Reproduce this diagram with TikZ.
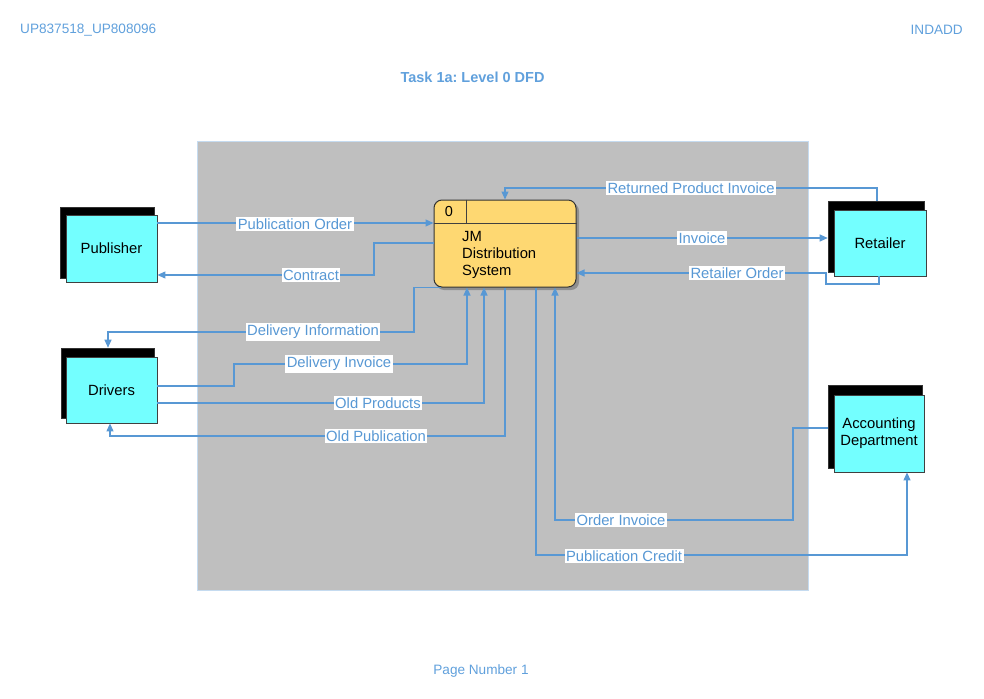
\documentclass[tikz,border=0pt]{standalone}
\usepackage{fontspec}
\setmainfont{Liberation Sans}
\usetikzlibrary{arrows.meta}
\definecolor{lblue}{RGB}{88,152,212}
\definecolor{hblue}{RGB}{96,160,220}
\definecolor{bggray}{RGB}{191,191,191}
\definecolor{cyanbox}{RGB}{115,255,255}
\definecolor{procfill}{RGB}{254,216,114}
\frenchspacing
\begin{document}
\begin{tikzpicture}[x=1pt,y=-1pt,
  flow/.style={draw=lblue,line width=1.1pt,-{Triangle[length=8pt,width=7pt]}},
  lbl/.style={fill=white,text=lblue,font=\fontsize{14.8}{17}\selectfont,inner xsep=1.5pt,inner ysep=2pt},
  shade/.style={fill=black,draw=black!80,line width=0.6pt,inner sep=0pt},
  entity/.style={fill=cyanbox,draw=black!75,line width=0.8pt,inner sep=0pt,align=center,
    font=\fontsize{14.8}{17}\selectfont},
  hdr/.style={text=hblue,font=\fontsize{13.6}{16}\selectfont,inner sep=0pt}
]
\useasboundingbox (0,0) rectangle (984,698);
% header / footer
\node[hdr,anchor=west] (h1) at (20,30) {UP837518\_UP808096};
\node[hdr,anchor=east] (h2) at (963,30) {INDADD};
\node[hdr,font=\bfseries\fontsize{14.5}{16}\selectfont] (title) at (472.5,77) {Task 1a: Level 0 DFD};
\node[hdr] (foot) at (481,671) {Page Number 1};
% background
\node[fill=bggray,draw=lblue!35,line width=0.8pt,minimum width=611pt,minimum height=449pt,inner sep=0pt] (bg) at (502.5,365.5) {};
% entities
\node[shade,minimum width=94pt,minimum height=71pt] (pubk) at (107,242.5) {};
\node[entity,minimum width=91pt,minimum height=67pt] (pub) at (111.5,248.5) {Publisher};
\node[shade,minimum width=93pt,minimum height=70pt] (drvk) at (107.5,383) {};
\node[entity,minimum width=91pt,minimum height=66pt] (drv) at (111.5,390) {Drivers};
\node[shade,minimum width=96pt,minimum height=71pt] (retk) at (876,236.5) {};
\node[entity,minimum width=92pt,minimum height=66pt] (ret) at (880,243) {Retailer};
\node[shade,minimum width=94pt,minimum height=83pt] (acck) at (875,426.5) {};
\node[entity,minimum width=90pt,minimum height=77pt] (acc) at (879,433.5) {Accounting\\Department};
% process
\fill[black,opacity=0.25,rounded corners=8pt] (436,203) rectangle (579,290);
\node[fill=procfill,draw=black!80,line width=1pt,rounded corners=8pt,minimum width=142pt,minimum height=87pt,inner sep=0pt] (proc) at (505,243.5) {};
\draw[black!75,line width=1pt] (proc.west |- 0,223) -- (proc.east |- 0,223);
\draw[black!75,line width=1pt] (466,0 |- proc.north) -- (466,223);
\node[font=\fontsize{14.5}{16}\selectfont,inner sep=0pt] (pid) at (449,212) {0};
\node[font=\fontsize{14.8}{17}\selectfont,align=left,anchor=west,inner sep=0pt] (pname) at (462,255) {JM\\Distribution\\System};
% flows
\draw[flow] (pub.east |- 0,223) -- (proc.west |- 0,223);
\node[lbl] (l1) at (295,224) {Publication Order};
\draw[flow] (proc.west |- 0,243) -- (374,243) -- (374,275) -- (pub.east |- 0,275);
\node[lbl] (l2) at (311,275) {Contract};
\draw[flow] (441,0 |- proc.south) -- (414,0 |- proc.south) -- (414,332) -- (108,332) -- (108,0 |- drvk.north);
\node[lbl] (l3) at (313,332) {Delivery Information};
\draw[flow] (drv.east |- 0,386) -- (234,386) -- (234,364) -- (467,364) -- (467,0 |- proc.south);
\node[lbl] (l4) at (339,364) {Delivery Invoice};
\draw[flow] (drv.east |- 0,403) -- (484,403) -- (484,0 |- proc.south);
\node[lbl] (l5) at (378,403) {Old Products};
\draw[flow] (505,0 |- proc.south) -- (505,436) -- (110,436) -- (110,0 |- drv.south);
\node[lbl] (l6) at (376,436) {Old Publication};
\draw[flow] (536,0 |- proc.south) -- (536,555) -- (907,555) -- (907,0 |- acc.south);
\node[lbl] (l7) at (624,556) {Publication Credit};
\draw[flow] (acck.west |- 0,428) -- (793,428) -- (793,520) -- (555,520) -- (555,0 |- proc.south);
\node[lbl] (l8) at (621,520) {Order Invoice};
\draw[flow] (proc.east |- 0,238) -- (retk.west |- 0,238);
\node[lbl] (l9) at (702,238) {Invoice};
\draw[flow] (879,0 |- ret.south) -- (879,284) -- (826,284) -- (826,273) -- (proc.east |- 0,273);
\node[lbl] (l10) at (737,273) {Retailer Order};
\draw[flow] (877,0 |- retk.north) -- (877,188) -- (505,188) -- (505,0 |- proc.north);
\node[lbl] (l11) at (691,188) {Returned Product Invoice};
\end{tikzpicture}
\end{document}
